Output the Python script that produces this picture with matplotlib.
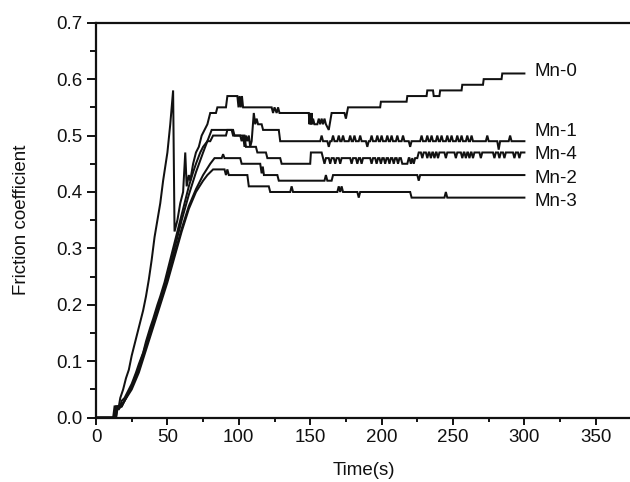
import matplotlib
matplotlib.use("Agg")
import matplotlib.pyplot as plt
from matplotlib.ticker import MultipleLocator, FormatStrFormatter

plt.rcParams['font.family'] = ['Liberation Sans', 'DejaVu Sans']

# ---- data (time s, friction coefficient) ----
MN0 = [(0,0),(12,0),(13,0.02),(16,0.02),(17,0.035),(19,0.05),(21,0.07),(23,0.085),(25,0.11),
       (27,0.13),(29,0.15),(31,0.17),(33,0.19),(35,0.215),(37,0.245),(39,0.28),(41,0.32),
       (43,0.35),(45,0.38),(47,0.42),(50,0.47),(52,0.52),(54,0.58),(55,0.33),(57,0.35),
       (59,0.38),(61,0.40),(62.5,0.47),(63.5,0.41),(65,0.43),(66,0.42),(68,0.45),(70,0.47),
       (72,0.48),(74,0.50),(76,0.51),(78,0.52),(80,0.54),(84,0.54),(85,0.55),(91,0.55),
       (92,0.57),(99,0.57),(99.8,0.55),(100.6,0.57),(101.4,0.55),(102.2,0.57),(103,0.55),
       (123,0.55),(124,0.54),(125,0.55),(126.5,0.54),(127.5,0.55),(128.5,0.54),(149,0.54),
       (149.5,0.52),(150,0.54),(150.5,0.52),(151,0.54),(151.5,0.52),(152,0.53),(153,0.52),
       (155,0.52),(156,0.53),(157,0.52),(158,0.53),(159,0.52),(160,0.53),(161,0.52),
       (163,0.51),(165,0.54),(174,0.54),(175,0.53),(176.5,0.55),(199,0.55),(199.5,0.56),
       (217.5,0.56),(218,0.57),(231.5,0.57),(232,0.58),(236,0.58),(236.5,0.57),(240.5,0.57),
       (241,0.58),(256,0.58),(256.5,0.59),(271,0.59),(271.5,0.60),(284,0.60),(284.5,0.61),
       (300,0.61)]

MN1 = [(0,0),(13,0),(14,0.02),(17,0.02),(18,0.03),(20,0.035),(22,0.045),(25,0.06),(28,0.08),
       (30,0.095),(33,0.115),(35,0.135),(38,0.16),(40,0.175),(43,0.20),(45,0.215),(48,0.24),
       (50,0.26),(53,0.29),(55,0.31),(58,0.34),(60,0.36),(63,0.39),(65,0.41),(68,0.435),
       (70,0.45),(73,0.47),(75,0.48),(78,0.49),(80,0.49),(82,0.50),(91,0.50),(92,0.51),
       (96,0.51),(97,0.50),(101,0.50),(102,0.49),(103,0.50),(104,0.48),(105,0.50),(106,0.49),
       (107,0.50),(108,0.48),(109,0.49),(110.5,0.54),(111.5,0.52),(112.5,0.53),(113.5,0.52),
       (116,0.52),(117,0.51),(128,0.51),(129,0.49),
       (157,0.49),(158,0.50),(159,0.49),(162,0.49),(163,0.48),(164,0.49),(165,0.49),(166,0.50),
       (167,0.49),(169,0.49),(170,0.50),(171,0.49),(172,0.49),(173,0.50),(174,0.49),(177,0.49),
       (178,0.50),(179,0.49),(180,0.49),(181,0.50),(182,0.49),(184,0.49),(185,0.50),(186,0.49),
       (189,0.49),(190,0.48),(191,0.49),(192,0.49),(193,0.50),(194,0.49),(196,0.49),(197,0.50),
       (198,0.49),(199,0.49),(200,0.50),(201,0.49),(203,0.49),(204,0.50),(205,0.49),(206,0.49),
       (207,0.50),(208,0.49),(210,0.49),(211,0.50),(212,0.49),(214,0.49),(215,0.50),(216,0.49),
       (219,0.49),(220,0.48),(221,0.49),(227,0.49),(228,0.50),(229,0.49),(231,0.49),(232,0.50),
       (233,0.49),(234,0.49),(235,0.50),(236,0.49),(238,0.49),(239,0.50),(240,0.49),(241,0.49),
       (242,0.50),(243,0.49),(245,0.49),(246,0.50),(247,0.49),(248,0.49),(249,0.50),(250,0.49),
       (252,0.49),(253,0.50),(254,0.49),(255,0.49),(256,0.50),(257,0.49),(259,0.49),(260,0.50),
       (261,0.49),(262,0.49),(263,0.50),(264,0.49),(273,0.49),(274,0.50),(275,0.49),(281,0.49),
       (282,0.475),(283,0.49),(289,0.49),(290,0.50),(291,0.49),(300,0.49)]

MN4 = [(0,0),(13,0),(14,0.015),(16,0.015),(17,0.02),(20,0.03),(25,0.055),(30,0.09),(35,0.13),
       (40,0.17),(45,0.21),(50,0.25),(55,0.30),(60,0.35),(65,0.395),(70,0.435),(75,0.47),
       (78,0.49),(81,0.51),(95,0.51),(96,0.50),(104,0.50),(105,0.48),(112,0.48),(113,0.47),
       (119,0.47),(120,0.46),(129,0.46),(130,0.45),(150,0.45),(150.5,0.47),(158,0.47),
       (159,0.46),(160,0.45),(161,0.46),(163,0.46),(164,0.45),(165,0.46),(166.5,0.46),
       (167.5,0.45),(168.5,0.46),(170,0.46),(171,0.45),(172,0.46),(178,0.46),(179,0.45),
       (180,0.46),(182,0.46),(183,0.45),(184,0.46),(185,0.46),(186,0.45),(187,0.46),(192,0.46),
       (193,0.45),(194,0.46),(195.5,0.46),(196.5,0.45),(197.5,0.46),(198.5,0.46),(199.5,0.45),
       (200.5,0.46),(201.5,0.46),(202.5,0.45),(203.5,0.46),(204.5,0.46),(205.5,0.45),
       (206.5,0.46),(207.5,0.46),(208.5,0.45),(209.5,0.46),(210.5,0.46),(211.5,0.45),
       (212.5,0.46),(213.5,0.46),(214.5,0.45),(218,0.45),(219,0.46),(219.5,0.46),(220.5,0.45),
       (221.5,0.46),(222.5,0.45),(223.5,0.46),(225,0.46),(226,0.47),(227.5,0.47),(228.5,0.46),
       (229.5,0.47),(231,0.47),(232,0.46),(233,0.47),(233.5,0.47),(234.5,0.46),(235.5,0.47),
       (236,0.47),(237,0.46),(238,0.47),(238.5,0.47),(239.5,0.46),(240.5,0.47),(244,0.47),
       (245,0.46),(246,0.47),(251,0.47),(252,0.46),(253,0.47),(255.5,0.47),(256.5,0.46),
       (257.5,0.47),(258,0.47),(259,0.46),(260,0.47),(260.5,0.47),(261.5,0.46),(262.5,0.47),
       (263,0.47),(264,0.46),(265,0.47),(268.5,0.47),(269.5,0.46),(270.5,0.47),(278,0.47),
       (279,0.46),(280,0.47),(281.5,0.47),(282.5,0.46),(283.5,0.47),(285,0.47),(286,0.46),
       (287,0.47),(292,0.47),(293,0.46),(294,0.47),(295.5,0.47),(296.5,0.46),(297.5,0.47),
       (300,0.47)]

MN2 = [(0,0),(14,0),(15,0.02),(18,0.02),(20,0.03),(25,0.055),(30,0.085),(35,0.125),(40,0.165),
       (45,0.205),(50,0.245),(55,0.29),(60,0.335),(65,0.375),(70,0.405),(75,0.43),(80,0.45),
       (83,0.46),(88,0.46),(89,0.467),(90,0.46),(101,0.46),(102,0.45),(115,0.45),(116,0.433),
       (116.8,0.445),(117.6,0.43),(127,0.43),(128,0.42),(160,0.42),(161,0.43),(162,0.42),
       (165,0.42),(166,0.43),(225,0.43),(226,0.42),(227,0.43),(300,0.43)]

MN3 = [(0,0),(14,0),(15,0.015),(18,0.02),(20,0.03),(25,0.05),(30,0.08),(35,0.12),(40,0.16),
       (45,0.20),(50,0.24),(55,0.285),(60,0.33),(65,0.37),(70,0.40),(75,0.42),(78,0.43),
       (82,0.44),(90,0.44),(91,0.43),(92,0.44),(93,0.43),(106,0.43),(107,0.41),(121,0.41),
       (122,0.40),(136,0.40),(137,0.41),(138,0.40),(169,0.40),(170,0.41),(171,0.40),(172,0.41),
       (173,0.40),(183,0.40),(184,0.39),(185,0.40),(220,0.40),(221,0.39),(244,0.39),(245,0.40),
       (246,0.39),(300,0.39)]

SERIES = [MN0, MN1, MN4, MN2, MN3]
NAMES = ["Mn-0", "Mn-1", "Mn-4", "Mn-2", "Mn-3"]
LABEL_Y = [0.613, 0.507, 0.466, 0.424, 0.383]
LABEL_X = 307

X_TICKS = [0, 50, 100, 150, 200, 250, 300, 350]
Y_TICKS = [0.0, 0.1, 0.2, 0.3, 0.4, 0.5, 0.6, 0.7]

fig = plt.figure(figsize=(6.3, 4.82), dpi=100)
ax = fig.add_axes([96/630, 1-417.7/482, 535.5/630, (417.7-22.7)/482])

col = '#111111'
for s in SERIES:
    t, v = zip(*s)
    ax.plot(t, v, color=col, lw=1.45, solid_joinstyle='miter')

for name, yy in zip(NAMES, LABEL_Y):
    ax.text(LABEL_X, yy, name, fontsize=13.5, ha='left', va='center', color=col)

ax.set_xlim(0, 375)
ax.set_ylim(0, 0.7)
ax.set_xticks(X_TICKS)
ax.set_yticks(Y_TICKS)
ax.xaxis.set_minor_locator(MultipleLocator(25))
ax.yaxis.set_minor_locator(MultipleLocator(0.05))
ax.yaxis.set_major_formatter(FormatStrFormatter('%.1f'))

ax.spines['right'].set_visible(False)
for sp in ['left', 'bottom', 'top']:
    ax.spines[sp].set_linewidth(1.6)
    ax.spines[sp].set_color(col)

ax.tick_params(axis='x', which='major', direction='out', length=5, width=1.4, pad=3,
               labelsize=13.5, colors=col)
ax.tick_params(axis='x', which='minor', direction='out', length=3, width=1.3)
ax.tick_params(axis='y', which='major', direction='out', length=6.3, width=1.4, pad=3.5,
               labelsize=13.5, colors=col)
ax.tick_params(axis='y', which='minor', direction='out', length=4.2, width=1.3)

ax.set_xlabel("Time(s)", fontsize=13.5, color=col, labelpad=12)
ax.set_ylabel("Friction coefficient", fontsize=13.5, color=col, labelpad=19)

fig.savefig("out.png", dpi=100)
